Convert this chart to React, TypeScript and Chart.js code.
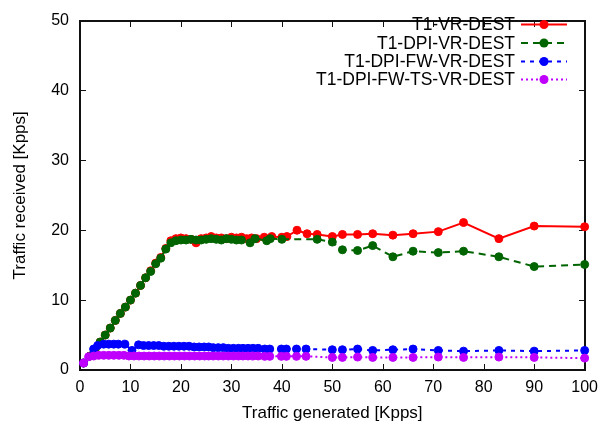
import React, { useEffect, useRef } from 'react';
import { Chart, registerables } from 'chart.js';

Chart.register(...registerables);

const FONT = '"Liberation Sans", Arial, Helvetica, sans-serif';

const seriesNames = ['T1-VR-DEST', 'T1-DPI-VR-DEST', 'T1-DPI-FW-VR-DEST', 'T1-DPI-FW-TS-VR-DEST'];
const seriesColors = ['#ff0000', '#006400', '#0000ff', '#c000ff'];
const seriesDashes: number[][] = [[], [7, 5], [4, 5], [2, 3]];

const xTickValues = [0, 10, 20, 30, 40, 50, 60, 70, 80, 90, 100];
const yTickValues = [0, 10, 20, 30, 40, 50];
const xTitle = 'Traffic generated [Kpps]';
const yTitle = 'Traffic received [Kpps]';

const redX = [0.7, 2, 3, 4, 5, 6, 7, 8, 9, 10, 11, 12, 13, 14, 15, 16, 17, 18, 19, 20, 21, 22, 23, 24, 25, 26, 27, 28, 29, 30, 31, 32, 33, 34, 35, 36.5, 38, 40, 41, 43, 45, 47, 50, 52, 55, 58, 62, 66, 71, 76, 83, 90, 100];
const redY = [1.0, 2.0, 3.0, 4.0, 5.0, 6.0, 7.1, 8.1, 9.0, 10.0, 11.0, 12.1, 13.2, 14.2, 15.3, 16.1, 17.4, 18.5, 18.8, 18.9, 18.8, 18.7, 18.2, 18.8, 18.9, 19.1, 18.9, 18.9, 18.8, 19.0, 18.9, 19.0, 18.8, 18.9, 18.8, 19.0, 19.1, 19.0, 19.1, 20.0, 19.5, 19.4, 19.1, 19.4, 19.4, 19.5, 19.3, 19.5, 19.8, 21.1, 18.8, 20.6, 20.5];

const greenX = [0.7, 2, 3, 4, 5, 6, 7, 8, 9, 10, 11, 12, 13, 14, 15, 16, 17, 18, 19, 20, 21, 22, 23, 24, 25, 26, 27, 28, 29, 30, 31, 32, 33.7, 34.7, 37, 37.7, 40, 47, 50, 52, 55, 58, 62, 66, 71, 76, 83, 90, 100];
const greenY = [1.0, 2.0, 3.0, 4.0, 5.0, 6.0, 7.1, 8.1, 9.0, 10.0, 11.0, 12.1, 13.2, 14.1, 15.2, 16.0, 17.3, 18.2, 18.5, 18.6, 18.6, 18.7, 18.6, 18.6, 18.7, 18.8, 18.7, 18.6, 18.8, 18.7, 18.6, 18.6, 18.2, 18.8, 18.5, 18.8, 18.7, 18.7, 18.3, 17.2, 17.1, 17.8, 16.2, 17.0, 16.8, 17.0, 16.2, 14.8, 15.1];

const blueX = [0.7, 2.7, 3.5, 4.7, 5.7, 6.7, 7.6, 8.9, 10.3, 11.6, 12.6, 13.6, 14.6, 15.6, 16.6, 17.6, 18.6, 19.6, 20.6, 21.6, 22.6, 23.6, 24.6, 25.5, 26.4, 27.4, 28.4, 29.4, 30.4, 31.4, 32.3, 33.3, 34.3, 35.3, 36.6, 37.6, 39.9, 40.9, 42.9, 44.8, 50, 52, 55, 58, 62, 66, 71, 76, 83, 90, 100];
const blueY = [1.0, 3.0, 3.5, 3.7, 3.7, 3.7, 3.7, 3.7, 2.8, 3.6, 3.5, 3.5, 3.5, 3.5, 3.4, 3.4, 3.4, 3.4, 3.4, 3.4, 3.3, 3.3, 3.3, 3.3, 3.2, 3.2, 3.2, 3.1, 3.1, 3.1, 3.1, 3.1, 3.1, 3.1, 3.0, 3.0, 3.0, 3.0, 3.0, 3.0, 2.9, 2.9, 3.0, 2.8, 2.9, 3.0, 2.8, 2.7, 2.8, 2.7, 2.8];

const purpleX = [0.7, 1.7, 2.7, 3.7, 4.7, 5.7, 6.7, 7.7, 8.7, 9.7, 10.7, 11.7, 12.7, 13.7, 14.7, 15.7, 16.7, 17.7, 18.7, 19.7, 20.7, 21.7, 22.7, 23.7, 24.7, 25.5, 26.4, 27.4, 28.4, 29.4, 30.4, 31.4, 32.3, 33.3, 34.3, 35.3, 36.6, 37.6, 39.9, 40.9, 42.9, 44.8, 50, 52, 55, 58, 62, 66, 71, 76, 83, 90, 100];
const purpleY = [1.0, 1.9, 2.0, 2.1, 2.1, 2.1, 2.1, 2.1, 2.1, 2.0, 2.0, 2.0, 2.0, 2.0, 2.0, 2.0, 2.0, 2.0, 2.0, 2.0, 2.0, 2.0, 2.0, 2.0, 2.0, 2.0, 2.0, 2.0, 2.0, 2.0, 2.0, 2.0, 2.0, 2.0, 2.0, 2.0, 1.95, 1.95, 1.95, 1.95, 1.95, 1.95, 1.8, 1.8, 1.85, 1.8, 1.8, 1.8, 1.85, 1.8, 1.85, 1.8, 1.7];

const seriesX = [redX, greenX, blueX, purpleX];
const seriesY = [redY, greenY, blueY, purpleY];

// target plot-area edges in the 606x426 canvas
const AREA = { left: 80, top: 12, right: 588, bottom: 370 };

function drawFrame(chart: any) {
  const { ctx, scales } = chart;
  const x0 = Math.round(scales.x.getPixelForValue(0));
  const x1 = Math.round(scales.x.getPixelForValue(100));
  const y0 = Math.round(scales.y.getPixelForValue(0));
  const y1 = Math.round(scales.y.getPixelForValue(50));
  ctx.save();
  ctx.globalAlpha = 1;
  ctx.globalCompositeOperation = 'source-over';
  ctx.fillStyle = '#111';
  const tl = 6;
  xTickValues.forEach((v) => {
    const px = Math.round(scales.x.getPixelForValue(v));
    ctx.fillRect(px, y0 - tl, 1, tl);
    ctx.fillRect(px, y1, 1, tl);
  });
  yTickValues.forEach((v) => {
    const py = Math.round(scales.y.getPixelForValue(v));
    ctx.fillRect(x0, py, tl, 1);
    ctx.fillRect(x1 - tl, py, tl, 1);
  });
  ctx.fillRect(x0 - 1, y1 - 1, x1 - x0 + 2, 2);
  ctx.fillRect(x0 - 1, y0 - 1, x1 - x0 + 2, 2);
  ctx.fillRect(x0 - 1, y1 - 1, 2, y0 - y1 + 2);
  ctx.fillRect(x1 - 1, y1 - 1, 2, y0 - y1 + 2);
  ctx.restore();
}

const labelPlugin = {
  id: 'labels',
  beforeDatasetsDraw(chart: any) {
    drawFrame(chart);
  },
  afterDraw(chart: any) {
    const { ctx, chartArea: a } = chart;
    ctx.save();
    ctx.fillStyle = '#000';
    ctx.font = `17px ${FONT}`;
    ctx.textAlign = 'center';
    ctx.textBaseline = 'middle';
    ctx.fillText(xTitle, (a.left + a.right) / 2, 413);
    ctx.save();
    ctx.translate(20, (a.top + a.bottom) / 2);
    ctx.rotate(-Math.PI / 2);
    ctx.fillText(yTitle, 0, 0);
    ctx.restore();

    const rows = [24.5, 43, 61.5, 79.5];
    ctx.font = `17.5px ${FONT}`;
    ctx.textAlign = 'right';
    for (let i = 0; i < seriesNames.length; i++) {
      const y = rows[i];
      ctx.fillStyle = '#000';
      ctx.fillText(seriesNames[i], 515, y + 1);
      ctx.strokeStyle = seriesColors[i];
      ctx.lineWidth = 2;
      ctx.setLineDash(seriesDashes[i]);
      ctx.beginPath();
      ctx.moveTo(521, y);
      ctx.lineTo(567, y);
      ctx.stroke();
      ctx.setLineDash([]);
      ctx.fillStyle = seriesColors[i];
      ctx.beginPath();
      ctx.arc(544, y, 4.5, 0, Math.PI * 2);
      ctx.fill();
    }
    ctx.restore();
  },
};

export default function App() {
  const ref = useRef<HTMLCanvasElement | null>(null);
  useEffect(() => {
    if (!ref.current) return;
    const datasets = seriesNames.map((name, i) => ({
      label: name,
      data: seriesX[i].map((x, j) => ({ x, y: seriesY[i][j] })),
      borderColor: seriesColors[i],
      backgroundColor: seriesColors[i],
      borderWidth: 2,
      borderDash: seriesDashes[i],
      pointRadius: 4,
      pointBorderWidth: 1,
      pointBorderColor: seriesColors[i],
      pointBackgroundColor: seriesColors[i],
      tension: 0,
      clip: false as any,
      order: 4 - i,
    }));
    const tickFont = { family: FONT, size: 16 };
    const padding = { top: 12, right: 18, left: 0, bottom: 0 };
    const chart = new Chart(ref.current, {
      type: 'line',
      data: { datasets },
      options: {
        animation: false,
        responsive: false,
        devicePixelRatio: 1,
        layout: { padding },
        plugins: { legend: { display: false }, tooltip: { enabled: false } },
        scales: {
          x: {
            type: 'linear',
            min: 0,
            max: 100,
            grid: { display: false, drawTicks: false },
            border: { display: false },
            ticks: { stepSize: 10, font: tickFont, color: '#000', padding: 8, maxRotation: 0 },
            afterFit: (s: any) => { s.height = 56; },
          },
          y: {
            type: 'linear',
            min: 0,
            max: 50,
            grid: { display: false, drawTicks: false },
            border: { display: false },
            ticks: { stepSize: 10, font: tickFont, color: '#000', padding: 11 },
            afterFit: (s: any) => { s.width = 80; },
          },
        },
      },
      plugins: [labelPlugin],
    });
    // nudge layout padding so the plot area lands on the target edges
    for (let k = 0; k < 2; k++) {
      const a = chart.chartArea;
      const p: any = (chart.options as any).layout.padding;
      p.top = Math.max(0, p.top + (AREA.top - a.top));
      p.right = Math.max(0, p.right + (a.right - AREA.right));
      chart.update('none');
    }
    return () => chart.destroy();
  }, []);
  return (
    <div style={{ position: 'absolute', left: 0, top: 0, width: 606, height: 426, background: '#fff' }}>
      <canvas ref={ref} width={606} height={426} style={{ display: 'block' }} />
    </div>
  );
}
